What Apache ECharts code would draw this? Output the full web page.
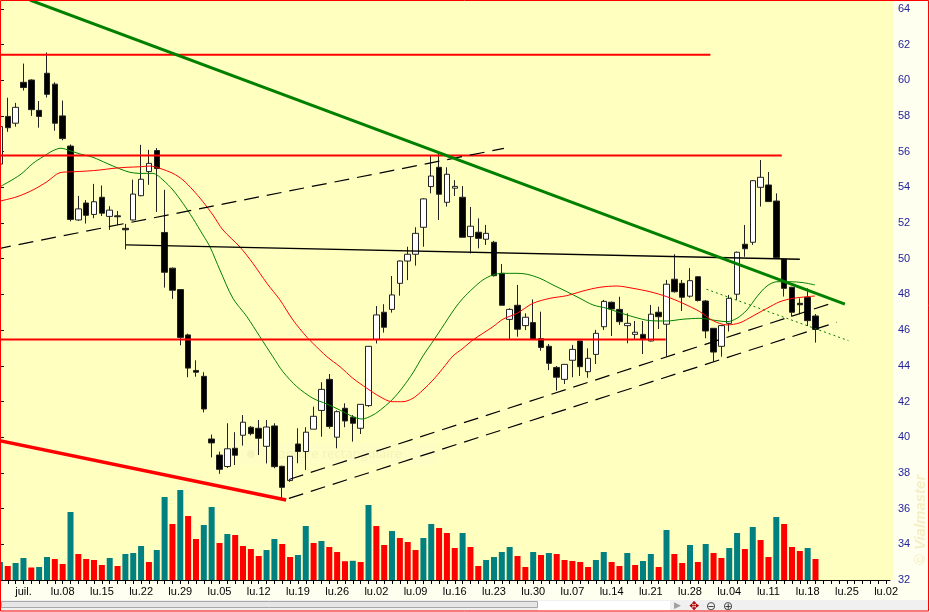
<!DOCTYPE html>
<html><head><meta charset="utf-8">
<script src="https://cdn.jsdelivr.net/npm/echarts/dist/echarts.min.js"></script>
<style>html,body{margin:0;padding:0;background:#fff;}#c{width:930px;height:612px;}</style>
</head><body><div id="c"></div>
<script>
// Monday tick labels (in order)
const tickLabels = ['juil.','lu.08','lu.15','lu.22','lu.29','lu.05','lu.12','lu.19','lu.26','lu.02','lu.09','lu.16','lu.23','lu.30','lu.07','lu.14','lu.21','lu.28','lu.04','lu.11','lu.18','lu.25','lu.02'];

// Daily OHLC
const opens = [55.3,57.97,57.59,59.88,60.01,58.31,60.39,59.78,58.0,56.31,52.17,53.12,52.48,53.44,52.37,52.4,51.7,52.17,53.53,54.88,56.06,51.47,49.47,48.27,45.73,43.74,43.41,39.9,39.0,38.36,39.38,40.11,40.56,40.5,39.49,40.63,38.37,37.57,39.62,39.2,40.45,41.5,43.24,40.0,41.62,41.12,40.5,41.77,45.48,47.0,47.16,48.62,49.87,50.25,51.76,54.04,55.12,53.16,53.95,53.44,51.24,51.48,51.09,50.92,49.18,46.6,47.39,46.25,46.42,45.52,45.09,43.91,43.24,44.31,45.39,43.67,44.64,46.19,47.56,47.16,46.25,45.76,45.76,45.39,47.0,46.33,48.85,48.62,47.9,48.99,47.63,46.1,45.09,46.38,48.01,50.81,50.92,54.0,54.13,53.23,49.97,48.4,47.5,47.84,46.79];
const closes = [57.4,57.34,58.48,59.59,58.35,57.97,59.21,57.59,56.73,52.2,52.79,52.43,53.19,52.55,52.72,52.35,51.62,53.62,54.45,55.34,55.05,49.24,48.23,45.59,43.87,43.64,41.58,39.68,38.2,39.35,38.99,40.84,40.2,39.94,40.57,38.35,37.19,38.93,39.2,40.28,41.17,42.68,40.6,41.43,40.91,40.78,41.84,45.09,46.85,46.16,47.97,49.87,50.25,51.42,53.35,54.63,53.61,54.73,54.05,51.2,51.82,51.14,51.42,49.05,47.39,47.16,46.05,46.72,45.5,45.03,44.14,43.36,44.08,44.92,43.95,44.42,45.82,47.61,47.18,46.47,46.38,45.88,45.5,46.89,46.75,48.57,48.15,47.84,48.77,47.66,45.95,44.77,46.25,47.78,50.36,50.56,54.37,54.56,53.2,50.06,48.34,47.0,47.42,46.53,46.04];
const lows = [55.1,57.11,57.4,59.42,58.0,57.34,59.03,57.17,56.63,52.09,52.12,51.97,52.27,52.39,51.62,51.89,50.52,52.14,53.5,54.14,52.62,48.38,47.75,45.15,43.36,43.39,41.39,38.87,37.95,38.28,38.44,39.53,40.1,39.0,38.53,38.26,36.48,37.5,38.54,38.16,40.45,40.03,40.48,39.38,40.56,39.75,40.18,41.7,45.25,45.86,46.98,47.93,48.8,49.61,50.67,53.66,52.17,52.92,53.51,51.2,50.3,50.58,50.77,49.0,47.39,45.48,45.63,46.0,45.48,44.84,43.76,42.61,42.98,43.36,43.43,43.33,44.1,46.01,45.67,46.29,45.26,45.48,44.66,45.36,46.06,44.52,48.1,47.07,47.82,47.6,45.54,44.23,44.51,45.92,47.69,50.11,50.77,52.92,53.2,50.02,47.88,46.75,46.88,46.23,45.3];
const highs = [57.6,59.02,58.73,60.93,60.05,58.83,61.55,59.88,58.86,56.4,53.52,53.29,54.19,54.1,52.94,52.67,51.95,54.43,56.38,56.1,56.2,53.86,49.5,48.3,45.8,44.31,43.64,40.15,39.19,40.78,40.28,41.24,40.62,40.96,40.96,40.78,38.4,38.95,40.5,40.56,41.71,43.08,43.54,41.5,41.9,41.24,41.84,45.1,47.35,47.45,49.03,49.9,50.67,51.76,53.39,55.81,55.9,55.12,54.4,54.07,52.9,52.26,51.89,51.0,49.7,47.22,48.53,46.94,47.72,47.03,45.22,43.99,44.08,45.17,45.4,44.98,46.01,47.69,47.6,47.87,46.94,46.51,46.51,47.41,47.31,48.81,50.25,48.81,49.47,49.0,47.69,46.1,46.29,47.97,50.4,51.89,54.4,55.53,54.86,53.66,50.0,48.42,47.78,48.34,46.9];

// Daily volume (relative units)
const volumes = [18,14,17,22,12.5,13,23,21,16,68,26,21,20,15,22,14,26,27,34,18,30,83,56,90,64,41,55,73,37,46,45,34,31,24,30,41,36,23,25,54,37,39,33,28,18.8,19.2,18,75,54,35,49,42,38,30,42,56,52,47,32,47,33,14,20,23,28,33,24,13,28,25,27,26,20,19,18,13,20,28,18,14,27,15,19,26,13,50,26,17,35,18,36,27,22,32,47,31,53,40,23,63,56,33,29,32,21];

// Moving averages: [day index, price]
const maFast = [[0,54.03],[2.55,54.69],[4.21,55.34],[5.48,55.71],[6.76,56.05],[7.78,56.19],[8.93,56.05],[10.2,55.87],[11.86,55.68],[13.64,55.34],[15.3,55.03],[16.58,54.84],[17.85,54.78],[19.51,54.78],[20.79,54.41],[22.06,53.85],[23.34,53.10],[24.61,52.26],[25.89,51.33],[26.78,50.67],[28.05,49.37],[29.71,47.78],[31.5,46.75],[33.15,45.63],[34.81,44.51],[36.09,43.67],[37.87,42.83],[39.91,42.18],[41.7,41.86],[43.36,41.52],[45.01,41.15],[46.16,41.02],[47.56,41.24],[48.84,41.64],[50.11,42.14],[51.39,42.81],[52.66,43.60],[53.94,44.55],[55.34,45.45],[56.32,46.10],[58.02,47.22],[59.04,47.78],[60.32,48.34],[61.59,48.81],[62.87,49.09],[64.14,49.18],[65.93,49.18],[67.2,49.13],[68.86,48.90],[70.52,48.53],[72.3,48.15],[73.96,47.78],[75.62,47.41],[77.4,47.22],[78.68,47.03],[80.72,46.75],[82.89,46.53],[85.05,46.51],[87.1,46.61],[89.26,46.66],[91.43,46.53],[92.71,46.47],[93.98,46.66],[95.26,47.13],[96.53,47.87],[97.81,48.47],[99.08,48.71],[100.74,48.71],[102.4,48.66],[103.93,48.53]];
const maSlow = [[0,53.23],[2.17,53.47],[4.21,53.85],[5.99,54.31],[7.65,54.82],[9.31,54.87],[11.09,54.91],[12.75,54.97],[14.41,55.06],[16.19,55.12],[17.85,55.15],[19.13,55.19],[20.4,55.06],[22.06,54.78],[23.34,54.41],[24.61,53.85],[25.89,53.19],[27.16,52.45],[28.44,51.61],[30.6,50.66],[32.26,49.74],[34.05,48.62],[35.71,47.69],[37.36,46.57],[39.15,45.60],[39.91,45.26],[41.7,44.51],[43.36,43.95],[45.01,43.30],[46.8,42.74],[48.46,42.27],[49.99,41.99],[51.39,41.99],[52.66,42.18],[53.94,42.64],[55.22,43.20],[56.49,43.86],[57.77,44.55],[59.04,44.98],[60.32,45.45],[61.59,45.82],[62.87,46.19],[64.14,46.61],[65.93,46.94],[67.97,47.50],[70.14,47.78],[72.3,47.93],[74.34,48.19],[76.51,48.40],[78.68,48.47],[80.72,48.34],[82.89,48.15],[85.05,47.87],[87.1,47.50],[89.26,47.03],[90.92,46.53],[92.71,46.29],[94.36,46.41],[96.02,46.79],[97.81,47.22],[99.46,47.59],[101.12,47.78],[102.91,47.87],[103.93,47.91]];

// Drawn trend lines: [day index, price] endpoints
const greenTrend = [[3.83,64.49],[107.75,47.46]];
const redLowTrend = [[-0.5,39.85],[36.5,36.48]];
const resistTop = [[-0.5,61.43],[90.6,61.43]];
const resistMid = [[-0.5,55.78],[99.7,55.78]];
const supportLine = [[-0.5,45.48],[84.9,45.48]];
const neckLine = [[16.07,50.77],[102.0,49.97]];
const dashUpper = [[-0.5,50.54],[64.27,56.18]];
const dashLow1 = [[36.85,37.63],[106.26,47.53]];
const dashLow2 = [[36.85,36.57],[106.7,46.44]];
const greenDotted = [[90.1,48.29],[108.2,45.41]];

// trading days (weekdays) from 26 June
const days = [];
(function(){
  let t = Date.UTC(2013,5,26);
  while (days.length < 114) {
    const d = new Date(t);
    const wd = d.getUTCDay();
    if (wd !== 0 && wd !== 6) days.push(d);
    t += 86400000;
  }
})();
const cats = days.map(d => d.toISOString().slice(0,10));
const labelOf = {};
(function(){ let k = 0; days.forEach((d,i)=>{ if (d.getUTCDay()===1 && k < tickLabels.length) labelOf[i] = tickLabels[k++]; }); })();

const candleData = opens.map((o,i)=>[o, closes[i], lows[i], highs[i]]);
const TEAL = '#008080', RED = '#FF0000';
const volData = volumes.map((v,i)=>({value:v, itemStyle:{color:(i===0 || v > volumes[i-1]) ? TEAL : RED}}));

function seg(data, color, width, type, z, clip){
  return {type:'line', xAxisIndex:1, yAxisIndex:0, data:data, symbol:'none', silent:true, animation:false,
    clip: clip !== false, z: z || 5, lineStyle:{color:color, width:width, type:type || 'solid'}};
}

const chart = echarts.init(document.getElementById('c'), null, {renderer:'canvas'});
chart.setOption({
  animation:false,
  backgroundColor:'#FFFFF0',
  grid:{left:-4, right:40, top:8.8, bottom:32, containLabel:false, outerBoundsMode:'none'},
  xAxis:[
    {type:'category', data:cats, boundaryGap:true,
     axisLine:{show:true, lineStyle:{color:'#000', width:1}},
     axisTick:{show:true, interval:0, alignWithLabel:true, length:4, lineStyle:{color:'#000'}},
     axisLabel:{interval:(i)=>labelOf[i]!==undefined, formatter:(v,i)=>labelOf[i]||'', color:'#000', fontSize:11, fontFamily:'Liberation Sans', margin:6, hideOverlap:false},
     splitLine:{show:false}},
    {type:'value', min:-0.5, max:113.5, show:false}
  ],
  yAxis:[
    {type:'value', position:'right', offset:3, min:32, max:64, interval:2, scale:true,
     axisLine:{show:true, lineStyle:{color:'#000'}},
     axisTick:{show:true, length:4, lineStyle:{color:'#000'}},
     axisLabel:{color:'#24249c', fontSize:11, fontFamily:'Liberation Sans', margin:5},
     splitLine:{show:false}},
    {type:'value', min:0, max:571.2, show:false, splitLine:{show:false}}
  ],
  graphic:[
    {type:'rect', z:-10, shape:{x:0,y:0,width:893,height:580}, style:{fill:'#FFFFC0'}},
    {type:'rect', z:-9, shape:{x:240,y:443,width:198,height:22}, style:{fill:'#FDFDC4'}},
    {type:'circle', z:-9, shape:{cx:251,cy:454,r:4}, style:{fill:'#F6F6BC'}},
    {type:'text', z:-9, style:{x:270,y:454,text:'Capture rectangulaire',fill:'#F3F3BA',font:'13px "Open Sans"',verticalAlign:'middle'}},
    {type:'text', z:1, rotation:Math.PI/2, x:921, y:520, style:{text:'© Vialmaster', fill:'#F4EFC4', font:'bold italic 15px "Liberation Sans"', align:'center', verticalAlign:'middle'}},
    {type:'rect', z:50, shape:{x:0,y:600,width:930,height:12}, style:{fill:'#F0F0F0'}},
    {type:'rect', z:51, shape:{x:1.5,y:601.5,width:536,height:6}, style:{fill:'#E6E6E6', stroke:'#A8A8A8', lineWidth:1}},
    {type:'rect', z:51, shape:{x:538,y:601,width:132,height:10}, style:{fill:'#FFFFFF'}},
    {type:'text', z:52, style:{x:674,y:606,text:'▶',fill:'#A0A0A0',font:'9px "DejaVu Sans"',verticalAlign:'middle'}},
    {type:'text', z:52, style:{x:689,y:607,text:'✥',fill:'#B00000',font:'12px "DejaVu Sans"',verticalAlign:'middle'}},
    {type:'text', z:52, style:{x:706,y:607,text:'⊖',fill:'#404040',font:'12px "DejaVu Sans"',verticalAlign:'middle'}},
    {type:'text', z:52, style:{x:723,y:607,text:'⊕',fill:'#404040',font:'12px "DejaVu Sans"',verticalAlign:'middle'}},
    {type:'rect', z:60, shape:{x:929,y:0,width:1,height:612}, style:{fill:'#FFFFFF'}},
    {type:'rect', z:61, shape:{x:0.5,y:0.5,width:928,height:610.5}, style:{fill:'none', stroke:'#FF0000', lineWidth:1}}
  ],
  series:[
    {type:'bar', name:'volume', xAxisIndex:0, yAxisIndex:1, data:volData, barWidth:6, z:1, silent:true, animation:false},
    {type:'candlestick', name:'cours', xAxisIndex:0, yAxisIndex:0, data:candleData, barWidth:6, z:3, silent:true, animation:false,
     itemStyle:{color:'#FFFFFF', color0:'#000000', borderColor:'#222222', borderColor0:'#222222', borderWidth:1}},
    Object.assign(seg(maFast,'#008000',1,'solid',4), {smooth:0.3}),
    Object.assign(seg(maSlow,'#FF0000',1,'solid',4), {smooth:0.3}),
    seg(resistTop,'#FF0000',2),
    seg(resistMid,'#FF0000',2),
    seg(supportLine,'#FF0000',2),
    seg(redLowTrend,'#FF0000',3.5),
    seg(neckLine,'#000000',1.3),
    seg(dashUpper,'#000000',1.2,[15,8]),
    seg(dashLow1,'#000000',1.2,[15,8]),
    seg(dashLow2,'#000000',1.2,[15,8]),
    seg(greenDotted,'#008000',1,[2,3]),
    seg(greenTrend,'#008000',3,'solid',6,false)
  ]
});
</script></body></html>
